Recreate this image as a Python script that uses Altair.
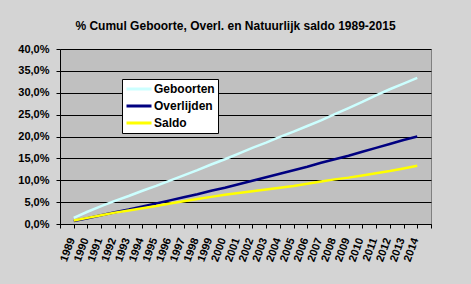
import altair as alt
import pandas as pd

years = list(range(1989, 2015))
geboorten = [1.4, 2.8, 4.1, 5.3, 6.4, 7.6, 8.7, 9.9, 11.1, 12.3, 13.6, 14.8, 16.1,
             17.4, 18.6, 19.9, 21.1, 22.4, 23.7, 25.1, 26.5, 27.9, 29.4, 30.8, 32.1, 33.4]
overlijden = [0.7, 1.3, 2.0, 2.7, 3.3, 4.0, 4.7, 5.4, 6.1, 6.8, 7.6, 8.3, 9.1,
              9.9, 10.7, 11.5, 12.3, 13.1, 14.0, 14.8, 15.6, 16.5, 17.4, 18.3, 19.2, 20.0]
saldo = [0.8, 1.4, 2.0, 2.6, 3.1, 3.6, 4.1, 4.7, 5.2, 5.7, 6.2, 6.7, 7.1,
         7.5, 7.9, 8.3, 8.7, 9.2, 9.7, 10.2, 10.6, 11.1, 11.6, 12.1, 12.7, 13.3]

series_names = ["Geboorten", "Overlijden", "Saldo"]
series_colors = ["#CCFFFF", "#000080", "#FFFF00"]
title_text = "% Cumul Geboorte, Overl. en Natuurlijk saldo 1989-2015"

rows = []
for name, vals in zip(series_names, [geboorten, overlijden, saldo]):
    for y, v in zip(years, vals):
        rows.append({"year": y, "value": v, "serie": name})
df = pd.DataFrame(rows)

FONT = "Liberation Sans"

chart = alt.Chart(df).mark_line(strokeWidth=2.5).encode(
    x=alt.X("year:Q",
            scale=alt.Scale(domain=[1988, 2015], nice=False, zero=False),
            axis=alt.Axis(values=list(range(1988, 2016)), format="d",
                          labelExpr="datum.value >= 1989 && datum.value <= 2014 ? datum.label : ''",
                          labelAngle=-70, labelAlign="right", labelBaseline="middle",
                          labelOverlap=False, labelFlush=False, labelPadding=10,
                          labelOffset=-2,
                          labelFont=FONT, labelFontSize=11, labelFontWeight="bold",
                          labelColor="black", tickColor="black", tickSize=4,
                          domainColor="black", grid=False, title=None)),
    y=alt.Y("value:Q",
            scale=alt.Scale(domain=[0, 40], nice=False),
            axis=alt.Axis(values=list(range(0, 41, 5)),
                          labelExpr="replace(format(datum.value, '.1f'), '.', ',') + '%'",
                          labelFont=FONT, labelFontSize=11, labelFontWeight="bold",
                          labelColor="black", tickColor="black", tickSize=4, labelPadding=7,
                          domainColor="black", grid=True, gridColor="black", gridOpacity=1,
                          title=None)),
    color=alt.Color("serie:N",
                    scale=alt.Scale(domain=series_names, range=series_colors),
                    legend=alt.Legend(orient="none", legendX=62, legendY=30, title=None,
                                      fillColor="white", strokeColor="black", padding=3,
                                      labelFont=FONT, labelFontSize=12, labelFontWeight="bold",
                                      labelColor="black", symbolType="stroke",
                                      symbolStrokeWidth=3, symbolSize=625, clipHeight=14,
                                      rowPadding=3, labelOffset=1)),
    order=alt.Order("year:Q"),
).properties(
    width=371, height=175,
    title=alt.TitleParams(title_text, font=FONT, fontSize=12, fontWeight="bold",
                          color="black", anchor="middle", dx=-10, offset=10),
    autosize=alt.AutoSizeParams(type="none"),
    padding={"left": 60, "top": 49, "right": 40, "bottom": 60},
    background="#d4d4d4",
).configure_view(fill="#C0C0C0", stroke="#808080", strokeWidth=1)

chart.save("out.html", embed_options={"renderer": "svg", "actions": False})
